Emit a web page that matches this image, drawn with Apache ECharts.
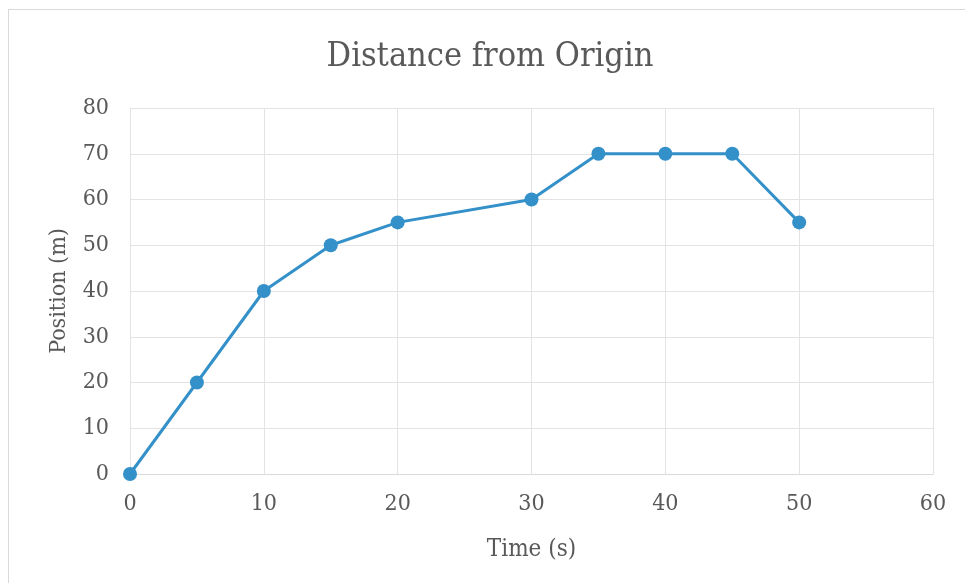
<!DOCTYPE html>
<html><head><meta charset="utf-8">
<script src="https://cdn.jsdelivr.net/npm/echarts@6/dist/echarts.min.js"></script>
<style>
html,body{margin:0;padding:0;background:#fff;}
#frame{position:absolute;left:8px;top:9px;width:960px;height:580px;border:1px solid #d9d9d9;box-sizing:border-box;}
#chart{position:absolute;left:0;top:0;width:965px;height:583px;}
</style>
</head><body>
<div id="frame"></div>
<div id="chart"></div>
<script>
var timeValues = [0, 5, 10, 15, 20, 30, 35, 40, 45, 50];
var positionValues = [0, 20, 40, 50, 55, 60, 70, 70, 70, 55];
var titleText = 'Distance from Origin';
var xAxisName = 'Time (s)';
var yAxisName = 'Position (m)';

var chart = echarts.init(document.getElementById('chart'), null, {renderer:'canvas'});
var font = "'DejaVu Serif Condensed', 'Liberation Serif', serif";
var pts = timeValues.map(function(t,i){return [t, positionValues[i]];});
chart.setOption({
  backgroundColor: 'transparent',
  animation: false,
  title: {text: titleText, left: 485, textAlign: 'center', top: 35,
    textStyle: {fontFamily: font, fontSize: 34, fontWeight: 'normal', color: '#595959'}},
  grid: {left: 130, right: 32, top: 108, bottom: 109},
  xAxis: {type: 'value', min: 0, max: 60, interval: 10,
    name: xAxisName, nameLocation: 'middle', nameGap: 64,
    nameTextStyle: {fontFamily: font, fontSize: 24, color: '#595959'},
    axisLine: {show: true, lineStyle: {color: '#d9d9d9', width: 1}},
    axisTick: {show: false},
    axisLabel: {fontFamily: font, fontSize: 23, color: '#595959', margin: 19},
    splitLine: {show: true, lineStyle: {color: '#e3e3e3', width: 1}}},
  yAxis: {type: 'value', min: 0, max: 80, interval: 10,
    name: yAxisName, nameLocation: 'middle', nameGap: 59, nameRotate: 90,
    nameTextStyle: {fontFamily: font, fontSize: 23, color: '#595959'},
    axisLine: {show: false},
    axisTick: {show: false},
    axisLabel: {fontFamily: font, fontSize: 23, color: '#595959', margin: 21},
    splitLine: {show: true, lineStyle: {color: '#e3e3e3', width: 1}}},
  series: [{type: 'line', data: pts, symbol: 'circle', symbolSize: 14,
    lineStyle: {color: '#3390c8', width: 3},
    itemStyle: {color: '#3390c8'}}]
});
</script>
</body></html>
